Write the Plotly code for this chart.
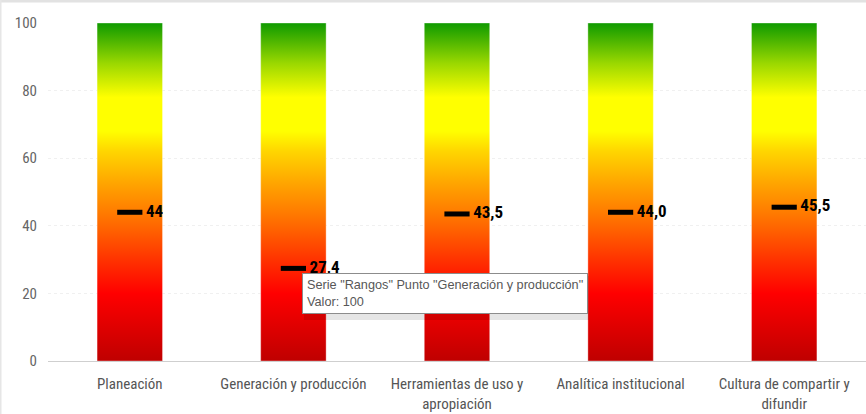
import plotly.graph_objects as go

# ---- data ----
categories = ["Planeación", "Generación y producción", "Herramientas de uso y<br>apropiación",
              "Analítica institucional", "Cultura de compartir y<br>difundir"]
rangos = [100, 100, 100, 100, 100]
valores = [44, 27.4, 43.5, 44.0, 45.5]
etiquetas = ["44", "27,4", "43,5", "44,0", "45,5"]
y_ticks = [0, 20, 40, 60, 80, 100]

# ---- layout geometry ----
W, H = 866, 414
ML, MR, MT, MB = 48, 0, 23, 53
PW, PH = W - ML - MR, H - MT - MB

def px_x(px):
    return (px - ML) / PW

def px_y(py):
    return (H - MB - py) / PH

NARROW = "Liberation Sans Narrow, Roboto Condensed, Roboto, sans-serif"

gradient = [
    [0.00, "#bf0000"],
    [0.20, "#ff0000"],
    [0.30, "#ff3300"],
    [0.42, "#ff7200"],
    [0.52, "#ffa200"],
    [0.62, "#ffd500"],
    [0.68, "#ffff00"],
    [0.78, "#ffff00"],
    [0.88, "#9bd800"],
    [1.00, "#0f9a00"],
]

fig = go.Figure()

half = 0.2  # half of the bar width in category units
for i, (cat, v) in enumerate(zip(categories, rangos)):
    fig.add_trace(go.Scatter(
        x=[i - half, i + half, i + half, i - half, i - half],
        y=[0, 0, v, v, 0],
        mode="lines",
        fill="toself",
        line=dict(width=1, color="rgba(255,255,255,0.35)"),
        fillgradient=dict(type="vertical", colorscale=gradient, start=0, stop=100),
        name="Rangos",
        legendgroup="Rangos",
        showlegend=False,
        hoverinfo="skip",
    ))

fig.add_trace(go.Scatter(
    x=list(range(len(categories))),
    y=valores,
    mode="markers+text",
    name="Valor",
    marker=dict(symbol="line-ew", size=18, line=dict(width=5, color="black"), color="black"),
    text=etiquetas,
    texttemplate=" %{text}",
    textposition="middle right",
    textfont=dict(family=NARROW, size=17, color="black", weight="bold"),
    showlegend=False,
    cliponaxis=False,
))

fig.update_layout(
    width=W, height=H,
    margin=dict(l=ML, r=MR, t=MT, b=MB),
    paper_bgcolor="white",
    plot_bgcolor="white",
    showlegend=False,
    xaxis=dict(
        range=[-0.5, len(categories) - 0.5],
        tickmode="array",
        tickvals=list(range(len(categories))),
        ticktext=categories,
        showgrid=False,
        zeroline=False,
        showline=True,
        linecolor="#cfcfcf",
        linewidth=1,
        ticks="",
        ticklabelstandoff=9,
        tickfont=dict(family=NARROW, size=15, color="#555555"),
        fixedrange=True,
    ),
    yaxis=dict(
        range=[0, 100],
        tickmode="array",
        tickvals=y_ticks,
        showgrid=True,
        gridcolor="#f0f0f0",
        griddash="dot",
        gridwidth=1,
        zeroline=False,
        ticks="",
        ticklabelstandoff=10,
        tickfont=dict(family=NARROW, size=15, color="#666666"),
        fixedrange=True,
    ),
    shapes=[
        # screenshot frame (top band and left edge)
        dict(type="rect", xref="paper", yref="paper", x0=px_x(0), x1=px_x(W), y0=px_y(2.5), y1=px_y(0),
             fillcolor="#e2e2e2", line=dict(width=0), layer="above"),
        dict(type="rect", xref="paper", yref="paper", x0=px_x(0), x1=px_x(1.5), y0=px_y(H), y1=px_y(0),
             fillcolor="#e6e6e6", line=dict(width=0), layer="above"),
        # tooltip shadow
        dict(type="rect", xref="paper", yref="paper", x0=px_x(304), x1=px_x(589), y0=px_y(320), y1=px_y(276),
             fillcolor="rgba(0,0,0,0.10)", line=dict(width=0), layer="above"),
    ],
    annotations=[
        dict(
            xref="paper", yref="paper",
            x=px_x(302), y=px_y(273),
            xanchor="left", yanchor="top",
            text='Serie "Rangos" Punto "Generación y producción"<br>Valor: 100',
            align="left",
            showarrow=False,
            font=dict(family="Liberation Sans, Arial, sans-serif", size=12.7, color="#575757"),
            bgcolor="white",
            bordercolor="#8c8c8c",
            borderwidth=1,
            borderpad=4,
        )
    ],
)

fig.write_html(
    "out.html",
    config={"displayModeBar": False},
    post_script="document.body.style.margin='0';document.body.style.padding='0';document.body.style.overflow='hidden';",
)
